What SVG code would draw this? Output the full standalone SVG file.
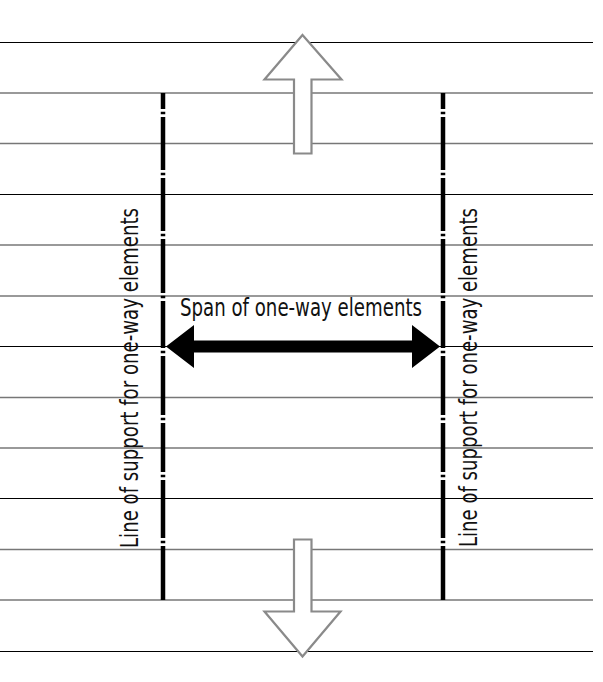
<svg xmlns="http://www.w3.org/2000/svg" width="603" height="682" viewBox="0 0 603 682">
<style>
.hb{stroke:#000;stroke-width:1}
.hg{stroke:#777;stroke-width:1.4}
.sup{fill:none;stroke:#000;stroke-width:4.5;stroke-linecap:butt}
.hollow{fill:#fff;stroke:#8a8a8a;stroke-width:2.2;stroke-linejoin:miter}
.lbl{font-family:"Liberation Sans Narrow","DejaVu Sans Condensed","Liberation Sans",sans-serif;font-stretch:condensed;font-size:25px;fill:#111}
</style>
<rect width="603" height="682" fill="#fff"/>
<g id="grid">
<line class="hb" x1="0" y1="42.5" x2="593" y2="42.5"/>
<line class="hg" x1="0" y1="93" x2="593" y2="93"/>
<line class="hg" x1="0" y1="143.5" x2="593" y2="143.5"/>
<line class="hb" x1="0" y1="194.5" x2="593" y2="194.5"/>
<line class="hg" x1="0" y1="245" x2="593" y2="245"/>
<line class="hg" x1="0" y1="296" x2="593" y2="296"/>
<line class="hb" x1="0" y1="346.5" x2="593" y2="346.5"/>
<line class="hg" x1="0" y1="397.5" x2="593" y2="397.5"/>
<line class="hg" x1="0" y1="448" x2="593" y2="448"/>
<line class="hb" x1="0" y1="498.5" x2="593" y2="498.5"/>
<line class="hg" x1="0" y1="549.5" x2="593" y2="549.5"/>
<line class="hg" x1="0" y1="600" x2="593" y2="600"/>
<line class="hb" x1="0" y1="651.5" x2="593" y2="651.5"/>
</g>
<g id="support-left">
<path class="sup" d="M163 93V109M163 111.7V114.3M163 117V170M163 172.7V175.3M163 178V231M163 233.7V236.3M163 239V293M163 295.7V298.3M163 301V348M163 350.7V353.3M163 356V415M163 417.7V420.3M163 423V472M163 474.7V477.3M163 480V538M163 540.7V543.3M163 546V600"/>
<text class="lbl" transform="translate(138,548) rotate(-90)" textLength="340" lengthAdjust="spacingAndGlyphs">Line of support for one-way elements</text>
</g>
<g id="support-right">
<path class="sup" d="M443 93V109M443 111.7V114.3M443 117V170M443 172.7V175.3M443 178V231M443 233.7V236.3M443 239V293M443 295.7V298.3M443 301V348M443 350.7V353.3M443 356V415M443 417.7V420.3M443 423V472M443 474.7V477.3M443 480V538M443 540.7V543.3M443 546V600"/>
<text class="lbl" transform="translate(476.5,547) rotate(-90)" textLength="339" lengthAdjust="spacingAndGlyphs">Line of support for one-way elements</text>
</g>
<g id="connectors">
<polygon id="span-arrow" fill="#000" points="166,346.5 194,325 194,340.5 412,340.5 412,325 440,346.5 412,368 412,352.5 194,352.5 194,368"/>
<polygon id="arrow-up" class="hollow" points="302.5,35 341.5,79.5 311.5,79.5 311.5,153.5 294,153.5 294,79.5 264.5,79.5"/>
<polygon id="arrow-down" class="hollow" points="294,539.5 311.5,539.5 311.5,611.5 340.5,611.5 302.5,656.5 264.5,611.5 294,611.5"/>
</g>
<g id="span-label">
<text class="lbl" x="180" y="315.5" textLength="242" lengthAdjust="spacingAndGlyphs">Span of one-way elements</text>
</g>
</svg>
